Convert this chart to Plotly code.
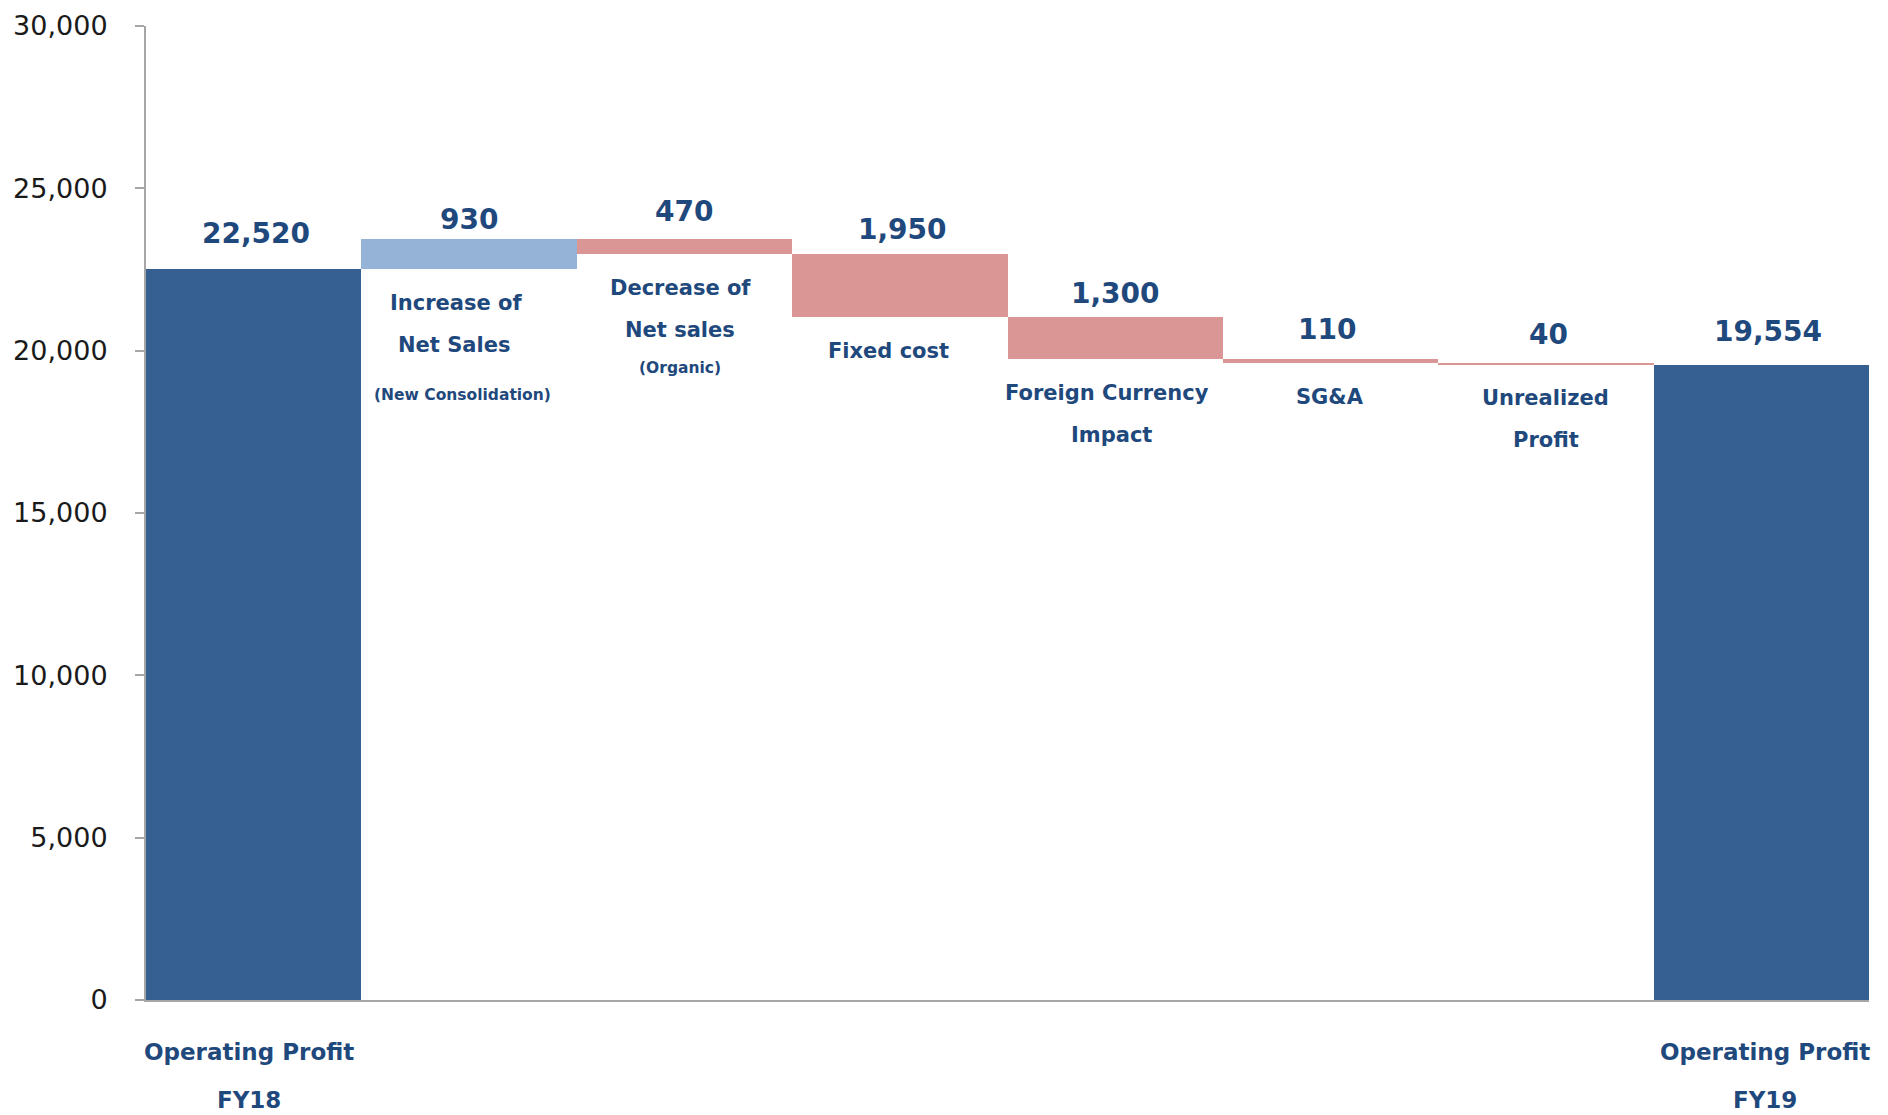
import plotly.graph_objects as go

# ---------------- data ----------------
categories = [
    "Operating Profit FY18",
    "Increase of Net Sales (New Consolidation)",
    "Decrease of Net sales (Organic)",
    "Fixed cost",
    "Foreign Currency Impact",
    "SG&A",
    "Unrealized Profit",
    "Operating Profit FY19",
]
measures = ["absolute", "relative", "relative", "relative", "relative", "relative", "relative", "absolute"]
values = [22520, 930, -470, -1950, -1300, -110, -40, 19554]
value_labels = ["22,520", "930", "470", "1,950", "1,300", "110", "40", "19,554"]

# label lines drawn under each floating bar (main lines, small note)
label_lines = [
    [],
    ["Increase of", "Net Sales"],
    ["Decrease of", "Net sales"],
    ["Fixed cost"],
    ["Foreign Currency", "Impact"],
    ["SG&A"],
    ["Unrealized", "Profit"],
    [],
]
label_notes = ["", "(New Consolidation)", "(Organic)", "", "", "", "", ""]
bottom_lines = [["Operating Profit", "FY18"], [], [], [], [], [], [], ["Operating Profit", "FY19"]]

y_ticks = [0, 5000, 10000, 15000, 20000, 25000, 30000]
y_tick_text = ["0", "5,000", "10,000", "15,000", "20,000", "25,000", "30,000"]

# ---------------- style ----------------
DARK = "#366092"
LIGHT = "#95B3D7"
PINK = "#D99694"
TXT = "#1F497D"
FONT = "Verdana, DejaVu Sans, sans-serif"

value_shift = [35, 19, 27, 24, 24, 30, 29, 34]
value_xshift = [2, 0, 0, 3, 0, -4, 3, 7]
line_xshift = [[], [-13, -15], [-4, -4], [-11], [-8, -4], [-1], [0, 0], []]
note_xshift = [0, -7, -4, 0, 0, 0, 0, 0]
note_shift = [0, 126, 114, 0, 0, 0, 0, 0]
bottom_xshift = [-5, 0, 0, 0, 0, 0, 0, 4]

fig = go.Figure(go.Waterfall(
    x=categories,
    y=values,
    measure=measures,
    totals=dict(marker=dict(color=DARK, line=dict(width=0))),
    increasing=dict(marker=dict(color=LIGHT, line=dict(width=0))),
    decreasing=dict(marker=dict(color=PINK, line=dict(width=0))),
    connector=dict(visible=False),
    hoverinfo="x+y",
))

# compute bar tops and bottoms from the data
tops, bottoms = [], []
running = 0
for m, v in zip(measures, values):
    if m == "absolute":
        tops.append(v)
        bottoms.append(0)
        running = v
    else:
        new = running + v
        tops.append(max(running, new))
        bottoms.append(min(running, new))
        running = new

annotations = []
for i, c in enumerate(categories):
    annotations.append(dict(
        x=c, y=tops[i], xref="x", yref="y", text=f"<b>{value_labels[i]}</b>",
        showarrow=False, yshift=value_shift[i], xshift=value_xshift[i], yanchor="middle",
        font=dict(family=FONT, size=28, color=TXT),
    ))
    for k, line in enumerate(label_lines[i]):
        annotations.append(dict(
            x=c, y=bottoms[i], xref="x", yref="y", text=f"<b>{line}</b>",
            showarrow=False, yshift=-(34 + 42 * k), xshift=line_xshift[i][k], yanchor="middle",
            font=dict(family=FONT, size=21, color=TXT),
        ))
    if label_notes[i]:
        annotations.append(dict(
            x=c, y=bottoms[i], xref="x", yref="y", text=f"<b>{label_notes[i]}</b>",
            showarrow=False, yshift=-note_shift[i], xshift=note_xshift[i], yanchor="middle",
            font=dict(family=FONT, size=15.5, color=TXT),
        ))
    for k, line in enumerate(bottom_lines[i]):
        annotations.append(dict(
            x=c, y=0, xref="x", yref="y", text=f"<b>{line}</b>",
            showarrow=False, yshift=-(52 + 48 * k), xshift=bottom_xshift[i], yanchor="middle",
            font=dict(family=FONT, size=23, color=TXT),
        ))

fig.update_layout(
    width=1880, height=1107,
    margin=dict(l=138, r=19, t=18, b=115, autoexpand=False),
    paper_bgcolor="white", plot_bgcolor="white",
    showlegend=False,
    waterfallgap=0,
    annotations=annotations,
    xaxis=dict(
        showticklabels=False, showgrid=False, zeroline=False, automargin=False,
        showline=True, linecolor="#A6A6A6", linewidth=2, ticks="",
        range=[-0.5, len(categories) - 0.5],
    ),
    yaxis=dict(
        range=[0, 30000], tickvals=y_ticks, ticktext=y_tick_text, automargin=False,
        showgrid=False, zeroline=False,
        showline=True, linecolor="#A6A6A6", linewidth=2,
        ticks="outside", ticklen=9, tickcolor="#A6A6A6", tickwidth=2,
        ticklabelstandoff=22,
        tickfont=dict(family=FONT, size=27, color="#1a1a1a"),
    ),
)

fig.write_html("out.html")
